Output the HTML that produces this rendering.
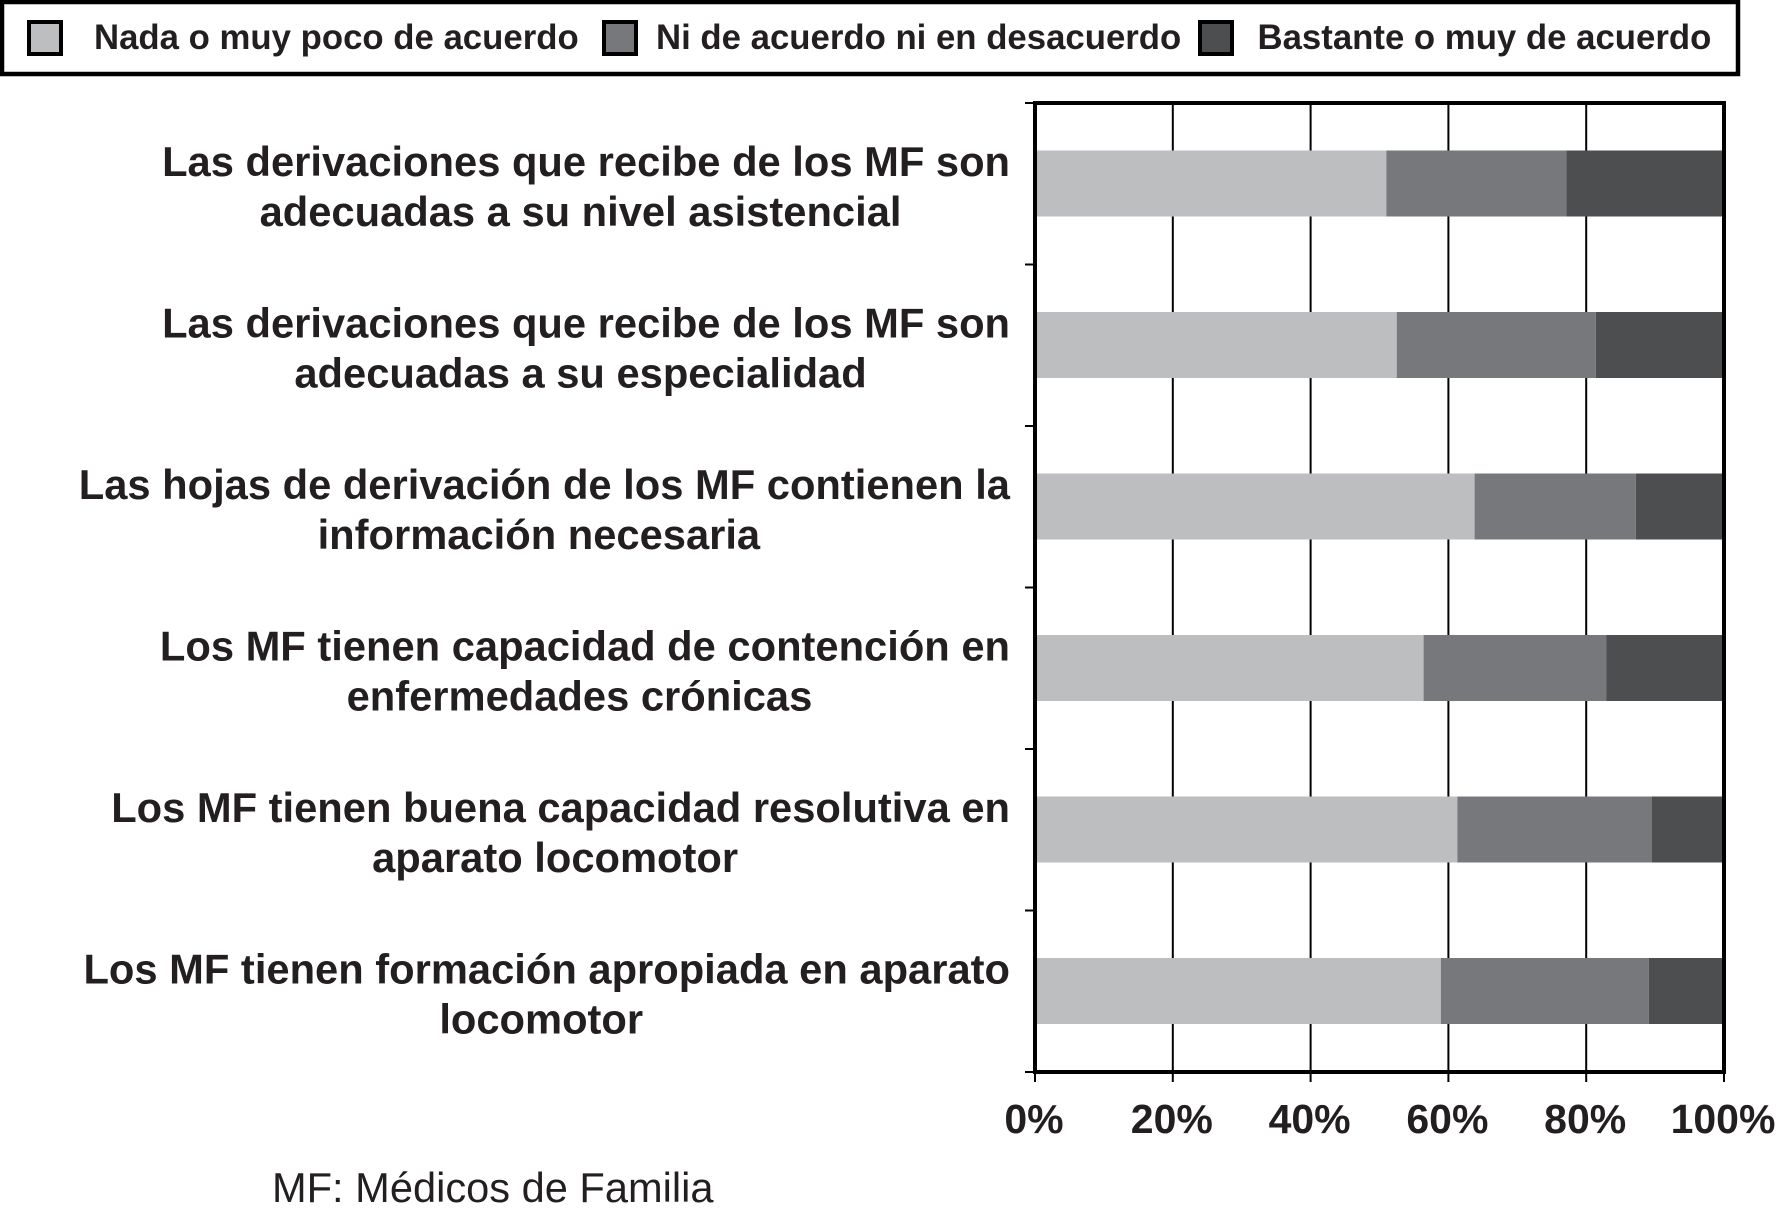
<!DOCTYPE html>
<html lang="es">
<head>
<meta charset="utf-8">
<title>Grado de acuerdo</title>
<style>
html,body{margin:0;padding:0;background:#fff;width:1776px;height:1222px;overflow:hidden}
svg{display:block}
text{font-family:"Liberation Sans",sans-serif;fill:#231f20}
</style>
</head>
<body>
<svg id="chart" xmlns="http://www.w3.org/2000/svg" width="1776" height="1222" viewBox="0 0 1776 1222">
  <g id="legend">
    <rect x="2" y="2" width="1736" height="72" fill="#fff" stroke="#000" stroke-width="4.5"/>
  </g>
  <g id="grid"></g>
  <g id="bars"></g>
  <g id="axes"></g>
  <g id="labels"></g>
  <text x="272" y="1202" font-size="41.6">MF: Médicos de Familia</text>
</svg>
<script>
const categories = [
  ["Las derivaciones que recibe de los MF son", "adecuadas a su nivel asistencial"],
  ["Las derivaciones que recibe de los MF son", "adecuadas a su especialidad"],
  ["Las hojas de derivación de los MF contienen la", "información necesaria"],
  ["Los MF tienen capacidad de contención en", "enfermedades crónicas"],
  ["Los MF tienen buena capacidad resolutiva en", "aparato locomotor"],
  ["Los MF tienen formación apropiada en aparato", "locomotor"]
];
const seriesNames = ["Nada o muy poco de acuerdo", "Ni de acuerdo ni en desacuerdo", "Bastante o muy de acuerdo"];
const nadaValues = [51.0, 52.5, 63.8, 56.4, 61.3, 58.9];
const niValues = [26.1, 28.9, 23.4, 26.5, 28.2, 30.2];
const bastanteValues = [22.9, 18.6, 12.8, 17.1, 10.5, 10.9];
const xTicks = [0, 20, 40, 60, 80, 100];

const NS = "http://www.w3.org/2000/svg";
const plot = { left: 1035, right: 1724, top: 103, bottom: 1072 };
const barHeight = 66;
const colors = ["#bcbec0", "#77787b", "#4d4e50"];
const seriesValues = [nadaValues, niValues, bastanteValues];

function xScale(v) { return plot.left + (v / 100) * (plot.right - plot.left); }
function bandTop(i) { return plot.top + i * (plot.bottom - plot.top) / categories.length; }
function bandCenter(i) { return bandTop(i) + (plot.bottom - plot.top) / categories.length / 2; }

function make(tag, attrs, parent) {
  const el = document.createElementNS(NS, tag);
  for (const k in attrs) el.setAttribute(k, attrs[k]);
  parent.appendChild(el);
  return el;
}

/* Legend */
const legend = document.getElementById("legend");
const swatchX = [27, 602, 1198];
const legendTextX = [94, 656, 1257.5];
seriesNames.forEach(function (name, s) {
  const sw = make("rect", { x: swatchX[s] + 2, y: 22, width: 32, height: 32, fill: colors[s], stroke: "#000", "stroke-width": 4 }, legend);
  
  
  const t = make("text", { x: legendTextX[s], y: 49, "font-size": 34.75, "font-weight": "bold" }, legend);
  t.textContent = name;
  
  
});

/* Gridlines */
const grid = document.getElementById("grid");
xTicks.slice(1, -1).forEach(function (v) {
  const g = make("line", { x1: xScale(v), x2: xScale(v), y1: plot.top, y2: plot.bottom, stroke: "#000", "stroke-width": 2 }, grid);
  
  
});

/* Bars */
const bars = document.getElementById("bars");
categories.forEach(function (c, i) {
  let cum = 0;
  seriesValues.forEach(function (vals, s) {
    const v = vals[i];
    const r = make("rect", {
      x: xScale(cum), y: bandCenter(i) - barHeight / 2 - 0.25,
      width: xScale(cum + v) - xScale(cum), height: barHeight, fill: colors[s]
    }, bars);
    
    
    cum += v;
  });
});

/* Axes and frame */
const axes = document.getElementById("axes");
const frame = make("rect", { x: plot.left, y: plot.top, width: plot.right - plot.left, height: plot.bottom - plot.top, fill: "none", stroke: "#000", "stroke-width": 4 }, axes);


for (let i = 0; i <= categories.length; i++) {
  const yt = make("line", { x1: plot.left - 10, x2: plot.left, y1: bandTop(i), y2: bandTop(i), stroke: "#000", "stroke-width": 2 }, axes);
  
  
}
xTicks.forEach(function (v) {
  const xt = make("line", { x1: xScale(v), x2: xScale(v), y1: plot.bottom, y2: plot.bottom + 10, stroke: "#000", "stroke-width": 2 }, axes);
  
  
  const tl = make("text", { x: xScale(v) - 1, y: 1133, "font-size": 41, "font-weight": "bold", "text-anchor": "middle" }, axes);
  tl.textContent = v + "%";
  
  
});

/* Category labels */
const labels = document.getElementById("labels");
categories.forEach(function (c, i) {
  const base = bandCenter(i) - 8;
  const a = make("text", { x: 1010, y: base, "font-size": 41.7, "font-weight": "bold", "text-anchor": "end" }, labels);
  a.textContent = c[0];
  
  
  const w = a.getComputedTextLength();
  const b = make("text", { x: 1010 - w / 2 - 5.5, y: base + 50, "font-size": 41.7, "font-weight": "bold", "text-anchor": "middle" }, labels);
  b.textContent = c[1];
  
  
});
</script>
</body>
</html>
